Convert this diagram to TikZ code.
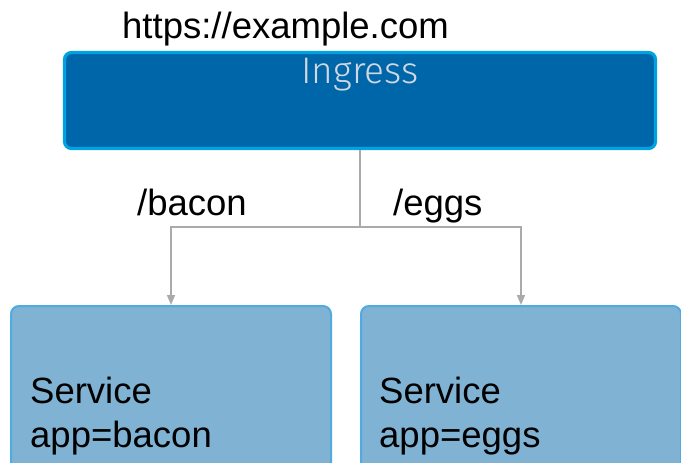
\documentclass[tikz,border=0pt]{standalone}
\usepackage{fontspec}
\setmainfont{Liberation Sans}
\newfontfamily\thinfont{Fira Sans Light}
\usetikzlibrary{arrows.meta}
\definecolor{ingfill}{RGB}{0,102,170}
\definecolor{ingedge}{RGB}{0,162,225}
\definecolor{svcfill}{RGB}{128,178,212}
\definecolor{svcedge}{RGB}{80,172,224}
\definecolor{ingtext}{RGB}{210,216,224}
\definecolor{wire}{RGB}{170,170,170}
\tikzset{
  ingbox/.style={draw=ingedge, fill=ingfill, line width=3.2pt, rounded corners=7pt,
    minimum width=591pt, minimum height=96pt, inner sep=0pt},
  svcbox/.style={draw=svcedge, fill=svcfill, line width=2pt, rounded corners=8pt,
    minimum width=320pt, minimum height=170pt, inner sep=0pt},
  bigtext/.style={font=\fontsize{36.5}{44}\selectfont, inner sep=0pt, text=black},
  wirearrow/.style={draw=wire, line width=1.6pt, -{Triangle[length=10pt,width=8pt]}},
  wireline/.style={draw=wire, line width=1.6pt},
}
\begin{document}
\begin{tikzpicture}[x=1pt, y=-1pt]
\useasboundingbox (0,0) rectangle (681,463);

% Ingress box and its title
\node[ingbox] (ing) at (360,100.5) {};
\node[font=\thinfont\fontsize{37}{42}\selectfont, text=ingtext, inner sep=0pt, anchor=base]
  (ingtitle) at (360,83) {Ingress};
\node[bigtext, anchor=base west] (url) at (122,38) {https://example.com};

% Service boxes
\node[svcbox] (lsvc) at (171,391) {};
\node[svcbox] (rsvc) at (521,391) {};
\node[bigtext, anchor=base west] (lname) at (30,403) {Service};
\node[bigtext, anchor=base west] (lsel) at (30,447) {app=bacon};
\node[bigtext, anchor=base west] (rname) at (379,403) {Service};
\node[bigtext, anchor=base west] (rsel) at (379,447) {app=eggs};

% Routing from the ingress to both services
\coordinate (fork) at (360,227);
\draw[wireline] (ing.south) -- (fork);
\draw[wirearrow] (fork) -| (lsvc.north);
\draw[wirearrow] (fork) -| (rsvc.north);
\node[bigtext, anchor=base west] (bacon) at (137,215) {/bacon};
\node[bigtext, anchor=base west] (eggs) at (393,215) {/eggs};
\end{tikzpicture}
\end{document}
